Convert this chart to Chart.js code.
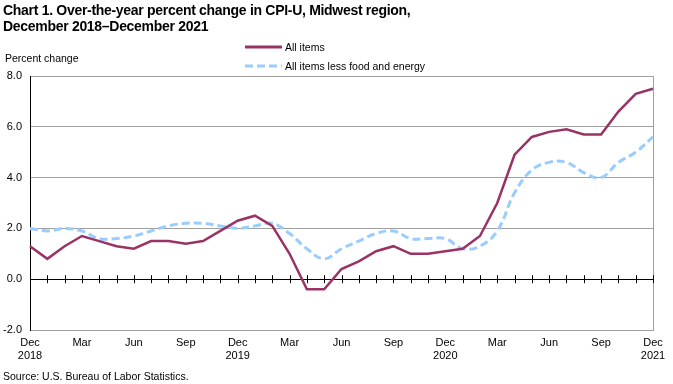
<!DOCTYPE html>
<html>
<head>
<meta charset="utf-8">
<script src="https://cdn.jsdelivr.net/npm/chart.js@4.4.1/dist/chart.umd.min.js"></script>
<style>
  body { margin: 0; background: #fff; font-family: 'Liberation Sans', Arial, sans-serif; }
  #wrap { position: relative; width: 673px; height: 384px; overflow: hidden; }
  #chart { position: absolute; left: 0; top: 0; }
  .txt { position: absolute; color: #000; white-space: nowrap; }
  #title { left: 3px; top: 2px; font-size: 14px; font-weight: bold; line-height: 16px; letter-spacing: -0.3px; }
  #ylab { left: 5px; top: 52px; font-size: 10.5px; }
  #source { left: 3px; top: 370px; font-size: 10.5px; }
  .leg { position: absolute; left: 245px; font-size: 10.5px; display: flex; align-items: center; }
  .leg svg { margin-right: 3px; }
</style>
</head>
<body>
<div id="wrap">
  <canvas id="chart" width="673" height="384"></canvas>
  <div class="txt" id="title">Chart 1. Over-the-year percent change in CPI-U, Midwest region,<br>December 2018–December 2021</div>
  <div class="txt" id="ylab">Percent change</div>
  <div class="leg" style="top:41px"><svg width="37" height="6"><line x1="0" y1="3" x2="37" y2="3" stroke="#993366" stroke-width="3"/></svg>All items</div>
  <div class="leg" style="top:60px"><svg width="37" height="6"><line x1="0" y1="3" x2="37" y2="3" stroke="#99ccff" stroke-width="3" stroke-dasharray="8,4"/></svg>All items less food and energy</div>
  <div class="txt" id="source">Source: U.S. Bureau of Labor Statistics.</div>
</div>
<script>
// Monthly categories, Dec 2018 - Dec 2021
const months = [
  'Dec 2018',
  'Jan 2019', 'Feb 2019', 'Mar 2019', 'Apr 2019', 'May 2019', 'Jun 2019',
  'Jul 2019', 'Aug 2019', 'Sep 2019', 'Oct 2019', 'Nov 2019', 'Dec 2019',
  'Jan 2020', 'Feb 2020', 'Mar 2020', 'Apr 2020', 'May 2020', 'Jun 2020',
  'Jul 2020', 'Aug 2020', 'Sep 2020', 'Oct 2020', 'Nov 2020', 'Dec 2020',
  'Jan 2021', 'Feb 2021', 'Mar 2021', 'Apr 2021', 'May 2021', 'Jun 2021',
  'Jul 2021', 'Aug 2021', 'Sep 2021', 'Oct 2021', 'Nov 2021', 'Dec 2021'
];

const allItems = [
  1.3,
  0.8, 1.3, 1.7, 1.5, 1.3, 1.2, 1.5, 1.5, 1.4, 1.5, 1.9, 2.3,
  2.5, 2.1, 1.0, -0.4, -0.4, 0.4, 0.7, 1.1, 1.3, 1.0, 1.0, 1.1,
  1.2, 1.7, 3.0, 4.9, 5.6, 5.8, 5.9, 5.7, 5.7, 6.6, 7.3, 7.5
];

const coreItems = [
  2.0,
  1.9, 2.0, 1.9, 1.6, 1.6, 1.7, 1.9, 2.1, 2.2, 2.2, 2.1, 2.0,
  2.1, 2.2, 1.8, 1.2, 0.8, 1.2, 1.5, 1.8, 1.9, 1.6, 1.6, 1.6,
  1.2, 1.3, 1.9, 3.4, 4.3, 4.6, 4.6, 4.2, 4.0, 4.6, 5.0, 5.6
];

const yMin = -2, yMax = 8, yStep = 2;
const quarterMonths = ['Mar', 'Jun', 'Sep'];

Chart.defaults.font.family = "'Liberation Sans', Arial, sans-serif";
Chart.defaults.font.size = 11;
Chart.defaults.color = '#000';

// small tick marks along the zero line, one per month
const zeroTicks = {
    id: 'zeroTicks',
    beforeDatasetsDraw(chart) {
        const { ctx, scales: { x, y } } = chart;
        const y0 = y.getPixelForValue(0);
        ctx.save();
        ctx.strokeStyle = '#000';
        ctx.lineWidth = 1;
        for (let i = 1; i < months.length; i++) {
            const px = Math.round(x.getPixelForValue(i)) + 0.5;
            ctx.beginPath();
            ctx.moveTo(px, y0 - 4);
            ctx.lineTo(px, y0 + 4);
            ctx.stroke();
        }
        ctx.restore();
    }
};

new Chart(document.getElementById('chart'), {
    type: 'line',
    data: {
        labels: months,
        datasets: [{
            label: 'All items',
            data: allItems,
            borderColor: '#993366',
            borderWidth: 2.5,
            pointRadius: 0,
            tension: 0,
        }, {
            label: 'All items less food and energy',
            data: coreItems,
            borderColor: '#99ccff',
            borderWidth: 3,
            borderDash: [8, 4],
            pointRadius: 0,
            tension: 0.4,
        }],
    },
    options: {
        responsive: false,
        animation: false,
        devicePixelRatio: 1,
        layout: { padding: { left: 0, top: 76, right: 20, bottom: 0 } },
        plugins: {
            legend: { display: false },
            tooltip: { enabled: false },
        },
        scales: {
            x: {
                offset: false,
                afterFit: s => { s.height = 54; },
                border: { display: true, color: '#a0a0a0' },
                grid: {
                    drawTicks: false,
                    color: c => c.index === months.length - 1 ? '#a0a0a0' : 'rgba(0,0,0,0)',
                },
                ticks: {
                    autoSkip: false,
                    maxRotation: 0,
                    padding: 6,
                    font: { size: 11, lineHeight: 1.18 },
                    callback: (v, i) => {
                        const [m, yr] = months[i].split(' ');
                        if (m === 'Dec') return [m, yr];
                        return quarterMonths.includes(m) ? m : '';
                    },
                },
            },
            y: {
                min: yMin,
                max: yMax,
                afterFit: s => { s.width = 30; },
                border: { display: true, color: '#000' },
                grid: {
                    drawTicks: false,
                    color: c => c.tick.value === 0 ? '#000' : '#a0a0a0',
                },
                ticks: {
                    stepSize: yStep,
                    padding: 8,
                    callback: v => v.toFixed(1),
                },
            },
        },
    },
    plugins: [zeroTicks],
});
</script>
</body>
</html>
